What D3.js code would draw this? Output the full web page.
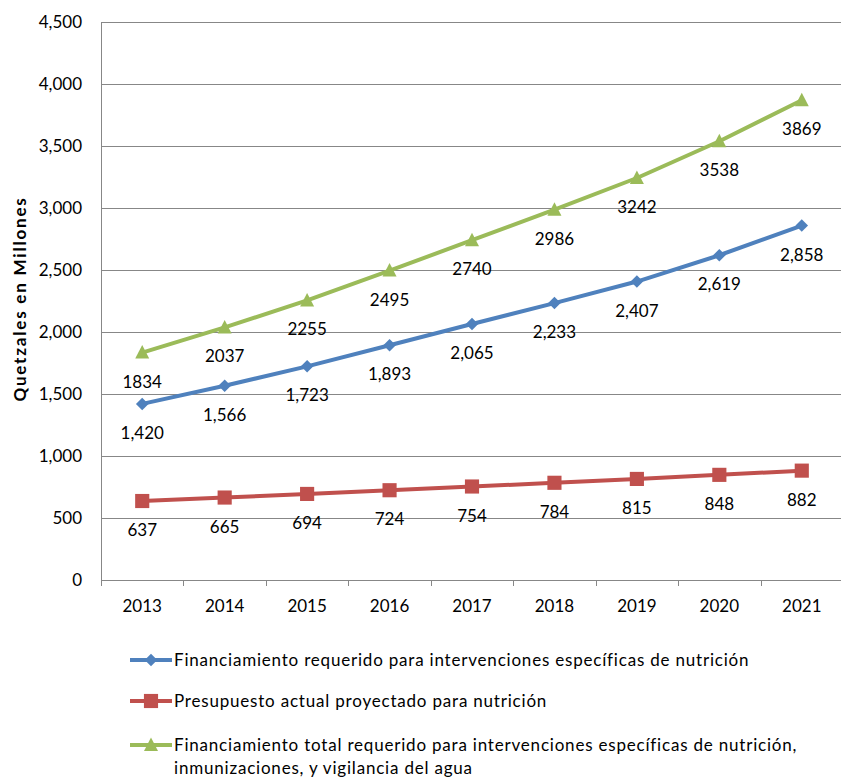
<!DOCTYPE html>
<html>
<head>
<meta charset="utf-8">
<script src="https://cdn.jsdelivr.net/npm/d3@7"></script>
<style>
  body { margin: 0; background: #fff; }
  text { font-family: Lato, "Open Sans", sans-serif; fill: #000; }
</style>
</head>
<body>
<div id="chart"></div>
<script>
var years = ["2013", "2014", "2015", "2016", "2017", "2018", "2019", "2020", "2021"];
var requerido = [1420, 1566, 1723, 1893, 2065, 2233, 2407, 2619, 2858];
var presupuesto = [637, 665, 694, 724, 754, 784, 815, 848, 882];
var total = [1834, 2037, 2255, 2495, 2740, 2986, 3242, 3538, 3869];
var yTicks = [0, 500, 1000, 1500, 2000, 2500, 3000, 3500, 4000, 4500];

var series = [
  { name: "Financiamiento requerido para intervenciones específicas de nutrición", values: requerido, color: "#4F81BD", marker: "diamond", fmt: d3.format(",") },
  { name: "Presupuesto actual proyectado para nutrición", values: presupuesto, color: "#C0504D", marker: "square", fmt: d3.format("d") },
  { name: "Financiamiento total requerido para intervenciones específicas de nutrición,|inmunizaciones, y vigilancia del agua", values: total, color: "#9BBB59", marker: "triangle", fmt: d3.format("d") }
];

var width = 841, height = 778;
var margin = { left: 101, right: 0, top: 22, bottom: 198 };

var svg = d3.select("#chart").append("svg")
    .attr("width", width)
    .attr("height", height);

var xScale = d3.scaleBand()
    .domain(years)
    .range([margin.left, 843]);

var yScale = d3.scaleLinear()
    .domain([0, 4500])
    .range([height - margin.bottom, margin.top]);

// gridlines
svg.append("g").selectAll("line")
    .data(yTicks)
    .enter().append("line")
    .attr("x1", margin.left)
    .attr("x2", width)
    .attr("y1", function (d) { return Math.round(yScale(d)) + 0.5; })
    .attr("y2", function (d) { return Math.round(yScale(d)) + 0.5; })
    .attr("stroke", "#878787")
    .attr("stroke-width", 1);

// y axis line + labels
svg.append("line")
    .attr("x1", margin.left + 0.5).attr("x2", margin.left + 0.5)
    .attr("y1", yScale(4500)).attr("y2", yScale(0))
    .attr("stroke", "#878787");

svg.append("g").selectAll("text")
    .data(yTicks)
    .enter().append("text")
    .attr("x", 82)
    .attr("y", function (d) { return yScale(d); })
    .attr("dy", "0.35em")
    .attr("text-anchor", "end")
    .style("font-size", "17px")
    .text(d3.format(","));

// x axis tick marks between categories
var xBounds = years.map(function (d) { return xScale(d); }).concat([xScale.range()[1]]);
svg.append("g").selectAll("line")
    .data(xBounds)
    .enter().append("line")
    .attr("x1", function (d) { return Math.round(d) + 0.5; })
    .attr("x2", function (d) { return Math.round(d) + 0.5; })
    .attr("y1", yScale(0))
    .attr("y2", yScale(0) + 6)
    .attr("stroke", "#878787");

svg.append("g").selectAll("text")
    .data(years)
    .enter().append("text")
    .attr("x", function (d) { return xScale(d) + xScale.bandwidth() / 2; })
    .attr("y", yScale(0) + 32)
    .attr("text-anchor", "middle")
    .style("font-size", "17px")
    .text(function (d) { return d; });

// y title
svg.append("text")
    .attr("transform", "translate(26,299) rotate(-90)")
    .attr("text-anchor", "middle")
    .style("font-size", "17px")
    .style("font-weight", "bold")
    .style("letter-spacing", "1.8px")
    .text("Quetzales en Millones");

var cx = function (i) { return xScale(years[i]) + xScale.bandwidth() / 2; };

var lineFunction = d3.line()
    .x(function (d, i) { return cx(i); })
    .y(function (d) { return yScale(d); });

function markerPath(type) {
  if (type === "diamond") return d3.symbol().type(d3.symbolDiamond2).size(100)();
  if (type === "square") return d3.symbol().type(d3.symbolSquare).size(200)();
  return "M0,-7.5L7,6L-7,6Z";
}

series.forEach(function (s) {
  svg.append("path")
      .attr("d", lineFunction(s.values))
      .attr("fill", "none")
      .attr("stroke", s.color)
      .attr("stroke-width", 4)
      .attr("stroke-linejoin", "round");

  svg.append("g").selectAll("path")
      .data(s.values)
      .enter().append("path")
      .attr("d", markerPath(s.marker))
      .attr("transform", function (d, i) {
        return "translate(" + cx(i) + "," + yScale(d) + ")";
      })
      .attr("fill", s.color);

  svg.append("g").selectAll("text")
      .data(s.values)
      .enter().append("text")
      .attr("x", function (d, i) { return cx(i); })
      .attr("y", function (d) { return yScale(d) + 35; })
      .attr("text-anchor", "middle")
      .style("font-size", "17px")
      .text(s.fmt);
});

// legend
var legendY = [660, 701, 745];
series.forEach(function (s, k) {
  var g = svg.append("g").attr("transform", "translate(0," + legendY[k] + ")");
  g.append("line")
      .attr("x1", 130).attr("x2", 172)
      .attr("y1", 0).attr("y2", 0)
      .attr("stroke", s.color)
      .attr("stroke-width", 4);
  g.append("path")
      .attr("d", markerPath(s.marker))
      .attr("transform", "translate(151,0)")
      .attr("fill", s.color);
  var lines = s.name.split("|");
  lines.forEach(function (t, j) {
    g.append("text")
        .attr("x", 174)
        .attr("y", j * 23)
        .attr("dy", "0.35em")
        .style("font-size", "17px")
        .style("letter-spacing", "0.8px")
        .text(t);
  });
});
</script>
</body>
</html>
